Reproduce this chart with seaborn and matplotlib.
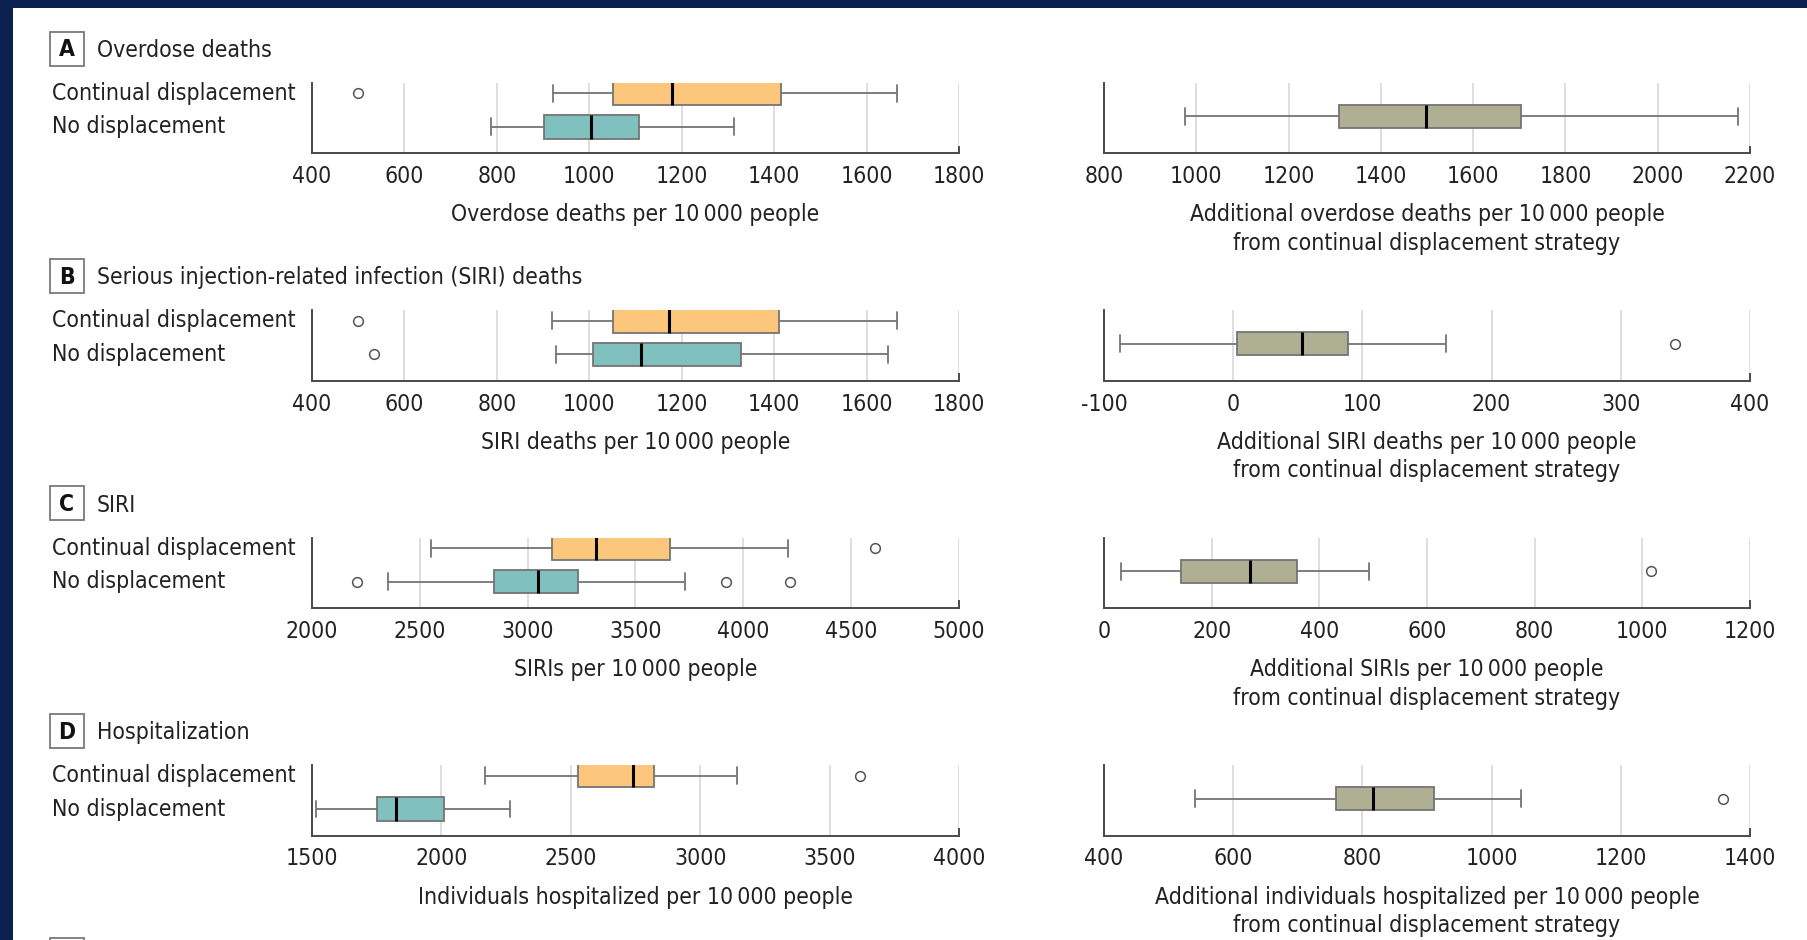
import numpy as np
import pandas as pd
import seaborn as sns
import matplotlib
matplotlib.use("Agg")
import matplotlib.pyplot as plt
from matplotlib.patches import Rectangle
from matplotlib.transforms import blended_transform_factory

# ---------------------------------------------------------------------------
# Data: five-number summaries [whisker low, Q1, median, Q3, whisker high]
# plus outliers, per strategy and outcome (per 10 000 people)
# ---------------------------------------------------------------------------
groups = ["Continual displacement", "No displacement"]

overdose_continual = [921, 1051, 1178, 1414, 1666]
overdose_continual_out = [500]
overdose_none = [788, 903, 1004, 1108, 1313]
overdose_none_out = []
overdose_diff = [975, 1309, 1497, 1703, 2175]
overdose_diff_out = []

siri_deaths_continual = [919, 1051, 1172, 1410, 1666]
siri_deaths_continual_out = [500]
siri_deaths_none = [928, 1007, 1112, 1328, 1646]
siri_deaths_none_out = [534]
siri_deaths_diff = [-88, 3, 53, 89, 165]
siri_deaths_diff_out = [342]

siri_continual = [2550, 3111, 3315, 3661, 4208]
siri_continual_out = [4610]
siri_none = [2352, 2842, 3049, 3233, 3729]
siri_none_out = [2207, 3921, 4217]
siri_diff = [31, 143, 272, 359, 492]
siri_diff_out = [1017]

hosp_continual = [2170, 2527, 2739, 2823, 3143]
hosp_continual_out = [3618]
hosp_none = [1517, 1751, 1825, 2010, 2264]
hosp_none_out = []
hosp_diff = [541, 759, 817, 911, 1045]
hosp_diff_out = [1358]

# Axis ticks
overdose_ticks = [400, 600, 800, 1000, 1200, 1400, 1600, 1800]
overdose_diff_ticks = [800, 1000, 1200, 1400, 1600, 1800, 2000, 2200]
siri_deaths_ticks = [400, 600, 800, 1000, 1200, 1400, 1600, 1800]
siri_deaths_diff_ticks = [-100, 0, 100, 200, 300, 400]
siri_ticks = [2000, 2500, 3000, 3500, 4000, 4500, 5000]
siri_diff_ticks = [0, 200, 400, 600, 800, 1000, 1200]
hosp_ticks = [1500, 2000, 2500, 3000, 3500, 4000]
hosp_diff_ticks = [400, 600, 800, 1000, 1200, 1400]

panel_letters = ["A", "B", "C", "D"]
panel_titles = ["Overdose deaths",
                "Serious injection-related infection (SIRI) deaths",
                "SIRI",
                "Hospitalization"]
TS = "\u2009"
left_xlabels = [f"Overdose deaths per 10{TS}000 people",
                f"SIRI deaths per 10{TS}000 people",
                f"SIRIs per 10{TS}000 people",
                f"Individuals hospitalized per 10{TS}000 people"]
right_xlabels = [f"Additional overdose deaths per 10{TS}000 people\nfrom continual displacement strategy",
                 f"Additional SIRI deaths per 10{TS}000 people\nfrom continual displacement strategy",
                 f"Additional SIRIs per 10{TS}000 people\nfrom continual displacement strategy",
                 f"Additional individuals hospitalized per 10{TS}000 people\nfrom continual displacement strategy"]

panels = [
    dict(rows=[(overdose_continual, overdose_continual_out), (overdose_none, overdose_none_out)],
         diff=(overdose_diff, overdose_diff_out), ticks=overdose_ticks, diff_ticks=overdose_diff_ticks),
    dict(rows=[(siri_deaths_continual, siri_deaths_continual_out), (siri_deaths_none, siri_deaths_none_out)],
         diff=(siri_deaths_diff, siri_deaths_diff_out), ticks=siri_deaths_ticks, diff_ticks=siri_deaths_diff_ticks),
    dict(rows=[(siri_continual, siri_continual_out), (siri_none, siri_none_out)],
         diff=(siri_diff, siri_diff_out), ticks=siri_ticks, diff_ticks=siri_diff_ticks),
    dict(rows=[(hosp_continual, hosp_continual_out), (hosp_none, hosp_none_out)],
         diff=(hosp_diff, hosp_diff_out), ticks=hosp_ticks, diff_ticks=hosp_diff_ticks),
]

# ---------------------------------------------------------------------------
# Style
# ---------------------------------------------------------------------------
sns.set_theme(style="white")
plt.rcParams["font.family"] = ["DejaVu Sans"]
plt.rcParams["font.stretch"] = "condensed"

ORANGE = "#FDC67D"
TEAL = "#80C1BF"
OLIVE = "#AFB093"
LINE = "#747474"
SPINE = "#4a4a4a"
GRID = "#d8d8d8"
NAVY = "#0B2150"
TEXT = "#222222"
FS = 16.5

W, H = 1807, 940
fig = plt.figure(figsize=(W / 100, H / 100), dpi=100)
fig.patch.set_facecolor("white")


def sample_from_summary(summary, outliers):
    """Sample whose quartiles, whisker ends and outliers reproduce the summary."""
    lo, q1, med, q3, hi = summary
    below = [v for v in outliers if v < q1]
    above = [v for v in outliers if v > q3]
    vals = below + [lo] + [q1] * 20 + [med] * 20 + [q3] * 20 + [hi] + above
    iqr = q3 - q1
    whis = max((q1 - lo) / iqr, (hi - q3) / iqr) + 1e-3
    return np.array(vals, dtype=float), whis


def draw_box(ax, summary, outliers, color, y=None, order=None):
    vals, whis = sample_from_summary(summary, outliers)
    kws = dict(
        color=color, saturation=1, whis=whis, width=0.7, linecolor=LINE, linewidth=1.3,
        medianprops=dict(color="black", linewidth=2.2),
        flierprops=dict(marker="o", markerfacecolor="white", markeredgecolor="#555555",
                        markersize=7, markeredgewidth=1.1),
        capwidths=0.5, ax=ax,
    )
    if y is None:
        sns.boxplot(x=vals, orient="h", **kws)
    else:
        df = pd.DataFrame({"value": vals, "group": [y] * len(vals)})
        sns.boxplot(data=df, x="value", y="group", order=order, orient="h", **kws)


def style_axis(ax, ticks, ylims):
    ax.set_xlim(ticks[0], ticks[-1])
    ax.set_ylim(*ylims)
    ax.set_xticks(ticks)
    ax.set_xticklabels([str(t) for t in ticks], fontsize=FS, color=TEXT)
    ax.set_yticks([])
    ax.set_ylabel("")
    ax.grid(axis="x", color=GRID, linewidth=1.2)
    ax.grid(axis="y", visible=False)
    ax.set_axisbelow(True)
    ax.tick_params(axis="x", length=0, pad=8.5)
    ax.spines["top"].set_visible(False)
    for s in ["left", "bottom", "right"]:
        ax.spines[s].set_color(SPINE)
        ax.spines[s].set_linewidth(1.4)
    ax.spines["right"].set_bounds(ylims[0], ylims[0] - 0.2)
    ax.set_facecolor("white")


LEFT_X, LEFT_W = 312 / W, 647 / W
RIGHT_X, RIGHT_W = 1104 / W, 646 / W
AX_TOP0, AX_H, STEP = 83, 70.3, 227.4

for i, p in enumerate(panels):
    top = AX_TOP0 + STEP * i
    bottom = 1 - (top + AX_H) / H
    axl = fig.add_axes([LEFT_X, bottom, LEFT_W, AX_H / H])
    axr = fig.add_axes([RIGHT_X, bottom, RIGHT_W, AX_H / H])

    for (summary, outs), grp, col in zip(p["rows"], groups, [ORANGE, TEAL]):
        draw_box(axl, summary, outs, col, y=grp, order=groups)
    style_axis(axl, p["ticks"], (1.793, -0.312))
    axl.set_xlabel(left_xlabels[i], fontsize=FS, color=TEXT, labelpad=11)

    trans = blended_transform_factory(fig.transFigure, axl.transData)
    for k, grp in enumerate(groups):
        axl.text(52 / W, k, grp, transform=trans, ha="left", va="center",
                 fontsize=FS, color=TEXT)

    draw_box(axr, p["diff"][0], p["diff"][1], OLIVE)
    style_axis(axr, p["diff_ticks"], (1.105, -1.0))
    axr.set_xlabel(right_xlabels[i], fontsize=FS, color=TEXT, labelpad=11, linespacing=1.3)

    # Panel header: boxed letter and title
    cy = 48.5 + STEP * i
    fig.add_artist(Rectangle((50 / W, 1 - (cy + 17) / H), 34 / W, 34 / H,
                             transform=fig.transFigure, facecolor="white",
                             edgecolor="#7a7a7a", linewidth=1.3))
    fig.text(67 / W, 1 - (cy + 1.5) / H, panel_letters[i], ha="center", va="center",
             fontsize=FS, fontweight="bold", color="#111111")
    fig.text(97 / W, 1 - (cy + 2) / H, panel_titles[i], ha="left", va="center",
             fontsize=FS, color=TEXT)

# Top edge of the next panel's header box, cut by the page edge
fig.add_artist(Rectangle((50 / W, 1 - (938 + 34) / H), 34 / W, 34 / H,
                         transform=fig.transFigure, facecolor="white",
                         edgecolor="#7a7a7a", linewidth=1.3))

# Page frame bands
fig.add_artist(Rectangle((0, 1 - 8 / H), 1, 8 / H, transform=fig.transFigure,
                         facecolor=NAVY, edgecolor="none"))
fig.add_artist(Rectangle((0, 0), 13 / W, 1, transform=fig.transFigure,
                         facecolor=NAVY, edgecolor="none"))

fig.savefig("out.png", dpi=100, facecolor="white")
